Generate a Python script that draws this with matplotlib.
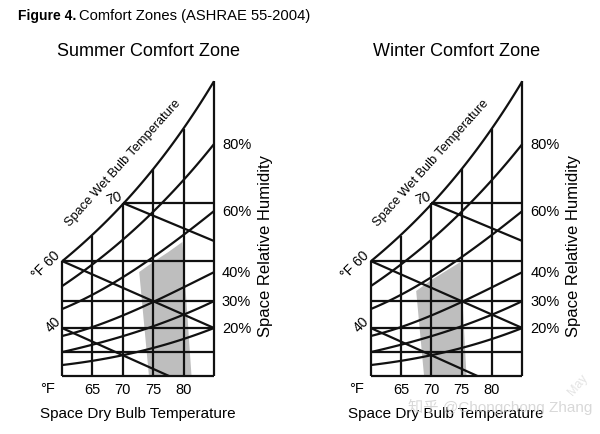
import matplotlib
matplotlib.use("Agg")
import matplotlib.pyplot as plt
import numpy as np

plt.rcParams['font.family'] = ['Liberation Sans', 'Noto Sans CJK SC', 'DejaVu Sans']

# dry bulb grid (deg F) and chart heights (humidity units)
dry_bulb = [60, 65, 70, 75, 80, 85]
saturation = [115, 140, 173, 207, 247, 295]

rh_labels = ['80%', '60%', '40%', '30%', '20%']
rh_80 = [90, 111, 137, 164, 196, 232]
rh_60 = [67, 81, 99, 119, 141, 165]
rh_40 = [40, 49, 60, 75, 88, 104]
rh_30 = [24, 31, 40, 50, 61, 75]
rh_20 = [11, 15, 21, 28, 37, 48]

# horizontal humidity lines across the chart
humidity_lines = [24, 48, 75, 115]
upper_line_start = 70
upper_line = 173

# wet bulb lines: (x0, h0, x1, h1)
wet_bulb_lines = [(70, 173, 85, 135), (60, 115, 85, 48), (60, 48, 77.6, 0)]

tick_labels = ['65', '70', '75', '80']

# comfort zones (dry bulb, height)
summer_x = [72.7, 75.0, 77.5, 79.8, 81.3, 74.3]
summer_h = [104, 114, 124, 134, 0, 0]
winter_x = [67.5, 70.0, 72.4, 74.8, 75.8, 68.8]
winter_h = [85, 96, 105, 114, 0, 0]

LW = 1.6
INK = '#111111'


def smooth(xs, ys):
    c = np.polyfit(xs, ys, 3)
    xx = np.linspace(xs[0], xs[-1], 80)
    return xx, np.polyval(c, xx)


def draw_panel(ax, title, zone_x, zone_h):
    ax.set_xlim(60, 85)
    ax.set_ylim(0, 295)
    ax.axis('off')
    ax.fill(zone_x, zone_h, color='#bebebe', lw=0, zorder=1)

    kw = dict(color=INK, lw=LW, clip_on=False, zorder=3, solid_capstyle='butt')
    # borders and dry bulb lines
    ax.plot([60, 60], [0, saturation[0]], **kw)
    ax.plot([60, 85], [0, 0], **kw)
    for x, top in zip(dry_bulb[1:], saturation[1:]):
        ax.plot([x, x], [0, top], **kw)
    for h in humidity_lines:
        ax.plot([60, 85], [h, h], **kw)
    ax.plot([upper_line_start, 85], [upper_line, upper_line], **kw)

    # saturation and RH curves
    xx, yy = smooth(dry_bulb, saturation)
    ax.plot(xx, yy, **kw)
    for lab, curve in zip(rh_labels, [rh_80, rh_60, rh_40, rh_30, rh_20]):
        xx, yy = smooth(dry_bulb, curve)
        ax.plot(xx, yy, **kw)
        ax.text(86.3, curve[-1], lab, fontsize=10.5, ha='left', va='center')

    for x0, h0, x1, h1 in wet_bulb_lines:
        ax.plot([x0, x1], [h0, h1], **kw)

    # labels
    ax.text(68.6, 178, '70', fontsize=10, rotation=20, ha='center', va='center')
    ax.text(57.4, 112, '°F 60', fontsize=10, rotation=45, ha='center', va='center')
    ax.text(58.5, 52, '40', fontsize=10, rotation=45, ha='center', va='center')
    ax.text(70.0, 214, 'Space Wet Bulb Temperature', fontsize=9.2, rotation=48,
            ha='center', va='center')
    ax.text(93.5, 131, 'Space Relative Humidity', fontsize=12, rotation=90,
            ha='center', va='center')
    for x, lab in zip(dry_bulb[1:-1], tick_labels):
        ax.text(x, -13, lab, fontsize=10.5, ha='center', va='center')
    ax.text(57.6, -12, '°F', fontsize=10.5, ha='center', va='center')
    ax.text(72.4, -37, 'Space Dry Bulb Temperature', fontsize=11,
            ha='center', va='center')
    ax.text(74.2, 325, title, fontsize=13, ha='center', va='center')


fig = plt.figure(figsize=(6, 4.35), dpi=100)
ax1 = fig.add_axes([62 / 600, 58 / 435, 152 / 600, 295 / 435])
ax2 = fig.add_axes([370.7 / 600, 58 / 435, 151.6 / 600, 295 / 435])
draw_panel(ax1, 'Summer Comfort Zone', summer_x, summer_h)
draw_panel(ax2, 'Winter Comfort Zone', winter_x, winter_h)

fig.text(18 / 600, 1 - 16 / 435, 'Figure 4.', fontsize=10, fontweight='bold',
         ha='left', va='center')
fig.text(79 / 600, 1 - 16 / 435, 'Comfort Zones (ASHRAE 55-2004)', fontsize=10.6,
         ha='left', va='center')

# watermark in the source picture
fig.text(500 / 600, 1 - 407 / 435, '知乎 @Chongchong Zhang', fontsize=11,
         color='#cfcfcf', alpha=0.8, ha='center', va='center', zorder=5)
fig.text(578 / 600, 1 - 385 / 435, 'May', fontsize=9, color='#e4e4e4',
         rotation=50, ha='center', va='center')

fig.savefig('out.png', dpi=100)
